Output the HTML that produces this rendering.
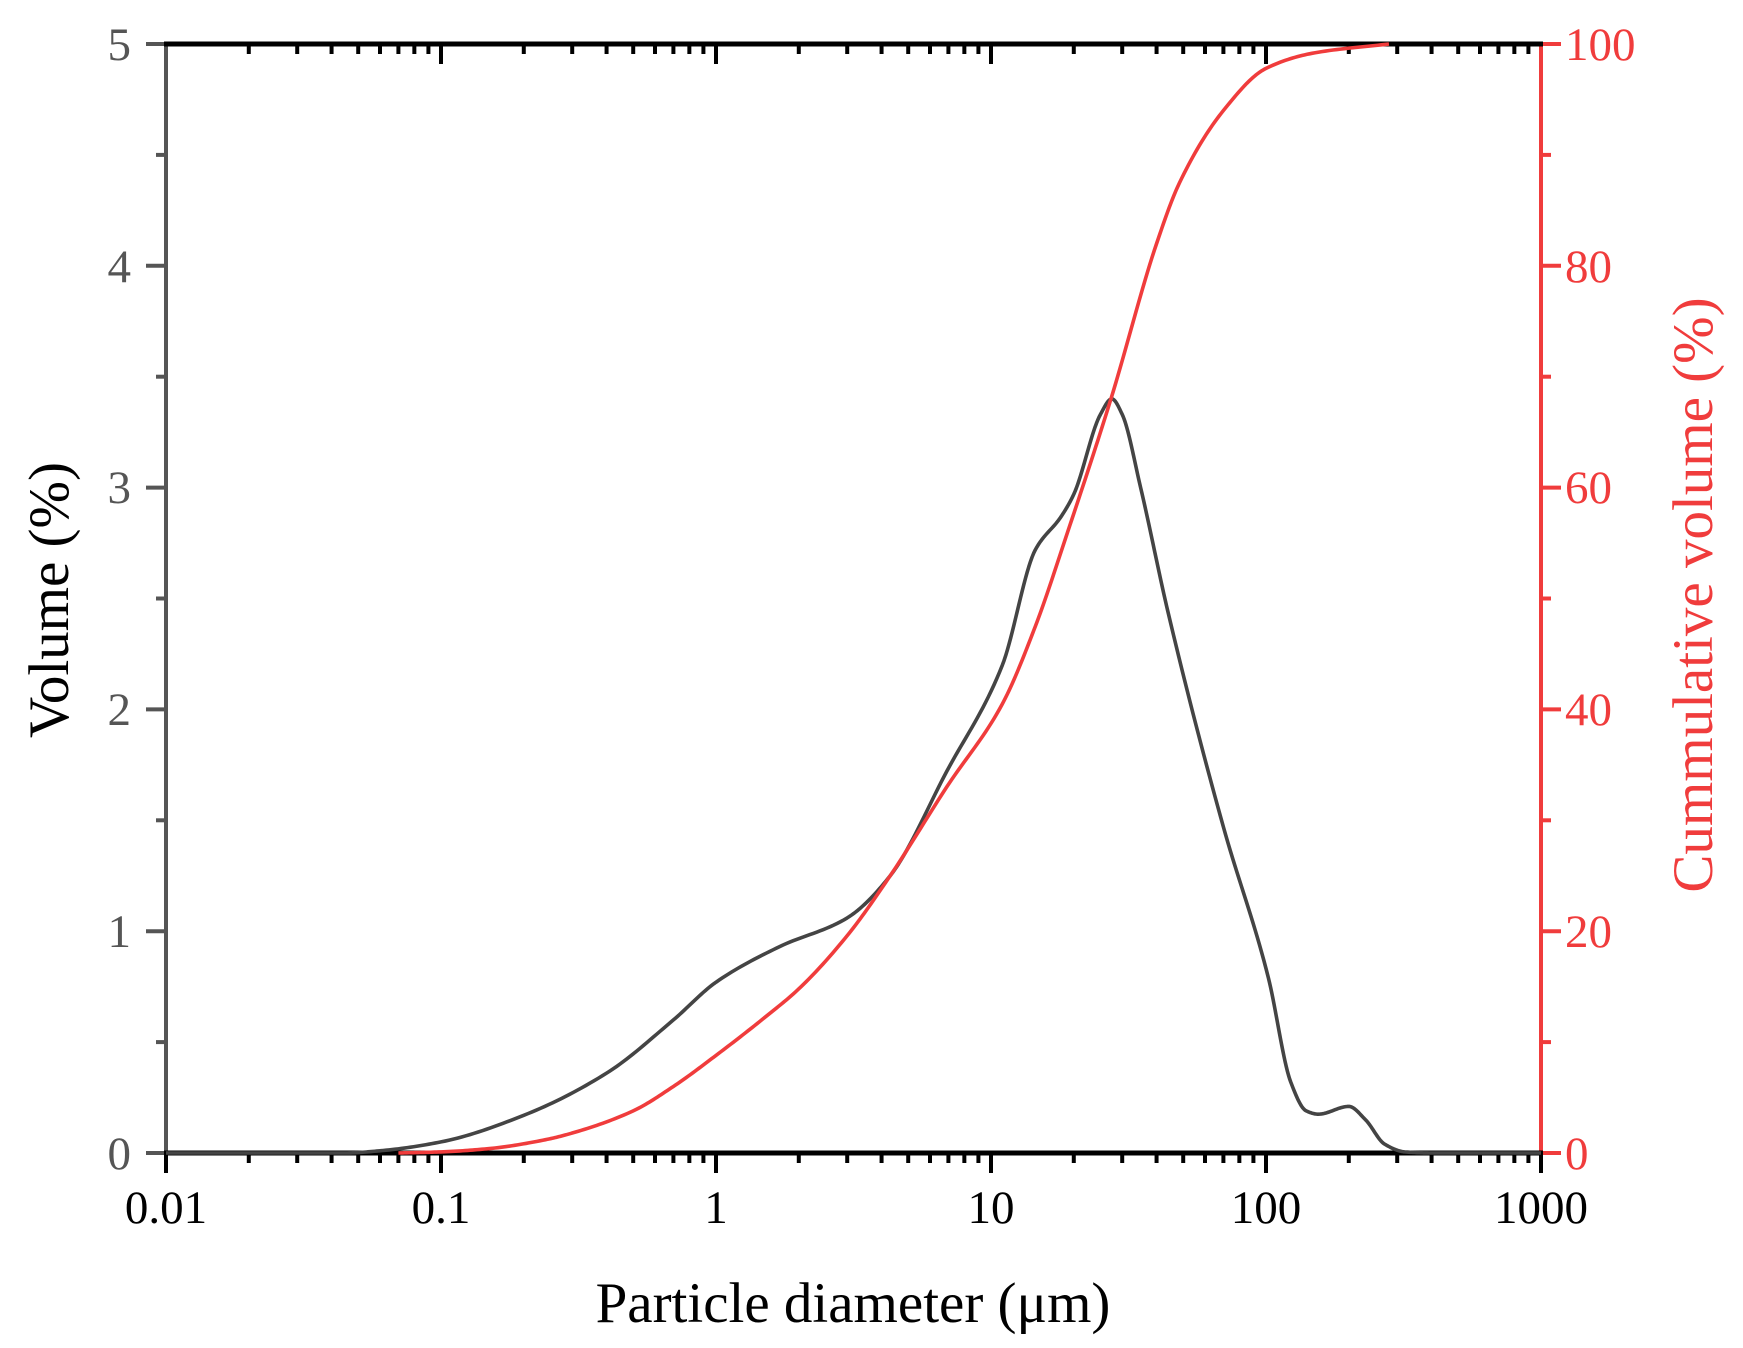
<!DOCTYPE html>
<html><head><meta charset="utf-8"><style>
html,body{margin:0;padding:0;background:#fff;}
svg{display:block;font-family:"Liberation Serif",serif;}
</style></head><body>
<svg id="s" width="1743" height="1348" xmlns="http://www.w3.org/2000/svg">
<g id="ax"></g>
<path id="blk" fill="none" stroke="#444" stroke-width="3.6" stroke-linejoin="round"/>
<path id="red" fill="none" stroke="#f03c3c" stroke-width="3.6" stroke-linejoin="round"/>
<g font-size="47" fill="#555" text-anchor="end">
<text x="131" y="1169">0</text><text x="131" y="947">1</text><text x="131" y="725">2</text>
<text x="131" y="503">3</text><text x="131" y="282">4</text><text x="131" y="60">5</text>
</g>
<g font-size="47" fill="#f03c3c" text-anchor="start">
<text x="1565" y="1169">0</text><text x="1565" y="947">20</text><text x="1565" y="725">40</text>
<text x="1565" y="503">60</text><text x="1565" y="282">80</text><text x="1565" y="60">100</text>
</g>
<g font-size="47" fill="#000" text-anchor="middle">
<text x="166" y="1223">0.01</text><text x="441" y="1223">0.1</text><text x="716" y="1223">1</text>
<text x="991" y="1223">10</text><text x="1266" y="1223">100</text><text x="1541" y="1223">1000</text>
</g>
<text x="853" y="1322" font-size="57" text-anchor="middle" fill="#000">Particle diameter (μm)</text>
<text transform="translate(68,600) rotate(-90)" font-size="57" text-anchor="middle" fill="#000">Volume (%)</text>
<text transform="translate(1712,595) rotate(-90)" font-size="57" text-anchor="middle" fill="#f03c3c">Cummulative volume (%)</text>
</svg>
<script>
var L=166,R=1541,T=44,B=1153,D=(R-L)/5;
function X(d){return L+(Math.log10(d)+2)*D;}
function Yv(v){return B-v*(B-T)/5;}
function Yc(c){return B-c*(B-T)/100;}
var ax=document.getElementById('ax'),h='';
function ln(x1,y1,x2,y2,c,w){h+='<line x1="'+x1+'" y1="'+y1+'" x2="'+x2+'" y2="'+y2+'" stroke="'+c+'" stroke-width="'+w+'"/>';}
for(var e=-2;e<=3;e++){for(var m=1;m<=9;m++){if(e==3&&m>1)break;var x=X(m*Math.pow(10,e));var len=m==1?20:10;
ln(x,B,x,B+len,'#000',4);ln(x,T,x,T+len,'#000',4);}}
for(var i=0;i<=10;i++){var y=B-i*(B-T)/10;var len=i%2==0?20:10;ln(L-len,y,L,y,'#555',4);ln(R,y,R+len,y,'#f03c3c',4);}
ln(L,T,L,B,'#555',4);ln(R,T,R,B,'#f03c3c',4);
ln(L-2,B,R+2,B,'#000',5);ln(L-2,T,R+2,T,'#000',5);
ax.innerHTML=h;
function mono(pts,yf){
 var xs=pts.map(function(a){return Math.log10(a[0]);}),ys=pts.map(function(a){return a[1];}),n=xs.length;
 var dk=[],m=[];for(var i=0;i<n-1;i++)dk.push((ys[i+1]-ys[i])/(xs[i+1]-xs[i]));
 m[0]=dk[0];m[n-1]=dk[n-2];
 for(var i=1;i<n-1;i++){if(dk[i-1]*dk[i]<=0)m[i]=0;else{var w1=2*(xs[i+1]-xs[i])+(xs[i]-xs[i-1]),w2=(xs[i+1]-xs[i])+2*(xs[i]-xs[i-1]);m[i]=(w1+w2)/(w1/dk[i-1]+w2/dk[i]);}}
 var s='';
 for(var i=0;i<n-1;i++){var hh=xs[i+1]-xs[i];for(var k=0;k<=20;k++){if(i>0&&k==0)continue;var t=k/20;
  var h00=2*t*t*t-3*t*t+1,h10=t*t*t-2*t*t+t,h01=-2*t*t*t+3*t*t,h11=t*t*t-t*t;
  var y=h00*ys[i]+h10*hh*m[i]+h01*ys[i+1]+h11*hh*m[i+1];var xx=xs[i]+t*hh;
  s+=(s?' L':'M')+(L+(xx+2)*D).toFixed(2)+','+yf(y).toFixed(2);}}
 return s;}
var bk=[[0.01,0],[0.045,0],[0.06,0.01],[0.1,0.05],[0.2,0.17],[0.4,0.36],[0.7,0.6],[1,0.77],[1.7,0.93],[3,1.06],[4.3,1.25],[6.9,1.72],[11,2.2],[14.5,2.72],[18,2.87],[20,2.97],[25,3.33],[27.5,3.4],[30,3.33],[35,3.0],[44,2.44],[70,1.47],[102,0.79],[123,0.32],[140,0.19],[155,0.175],[200,0.21],[230,0.15],[270,0.04],[320,0.005],[400,0],[1000,0]];
var rd=[[0.07,0],[0.1,0.1],[0.15,0.4],[0.24,1.2],[0.3,1.8],[0.5,3.8],[0.7,6],[1,8.8],[1.5,12.2],[2,14.8],[3,19.6],[4.3,25],[6.9,33],[11,40.5],[14.5,47.5],[19,56],[27.3,68],[40,82],[48.5,87.5],[70,94],[100,97.8],[150,99.2],[280,100]];
document.getElementById('blk').setAttribute('d',mono(bk,Yv));
document.getElementById('red').setAttribute('d',mono(rd,Yc));
</script>
</body></html>
